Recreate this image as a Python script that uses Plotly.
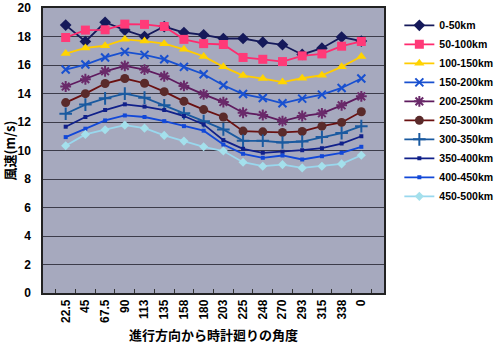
import plotly.graph_objects as go

angles = ["22.5", "45", "67.5", "90", "113", "135", "158", "180", "203", "225", "248", "270", "293", "315", "338", "0"]

series_names = ["0-50km", "50-100km", "100-150km", "150-200km", "200-250km",
                "250-300km", "300-350km", "350-400km", "400-450km", "450-500km"]

v_0_50 = [18.8, 17.65, 19.0, 18.45, 18.0, 18.7, 18.28, 18.12, 17.86, 17.86, 17.6, 17.42, 16.74, 17.18, 17.96, 17.68]
v_50_100 = [17.93, 18.45, 18.47, 18.87, 18.85, 18.7, 17.8, 17.5, 17.44, 16.53, 16.4, 16.24, 16.64, 16.78, 17.32, 17.65]
v_100_150 = [16.8, 17.2, 17.35, 17.8, 17.68, 17.5, 17.1, 16.6, 15.87, 15.26, 15.05, 14.8, 15.07, 15.28, 15.87, 16.6]
v_150_200 = [15.68, 16.03, 16.53, 16.92, 16.71, 16.4, 15.87, 15.35, 14.58, 13.96, 13.68, 13.31, 13.64, 13.92, 14.39, 15.05]
v_200_250 = [14.49, 15.0, 15.56, 15.94, 15.68, 15.21, 14.53, 13.94, 13.4, 12.65, 12.49, 12.06, 12.42, 12.61, 13.17, 13.8]
v_250_300 = [13.36, 13.99, 14.7, 15.05, 14.72, 14.13, 13.45, 12.87, 12.35, 11.36, 11.31, 11.27, 11.34, 11.71, 11.97, 12.72]
v_300_350 = [12.58, 13.22, 13.66, 13.99, 13.71, 13.17, 12.61, 12.06, 11.48, 10.68, 10.68, 10.56, 10.63, 10.94, 11.22, 11.71]
v_350_400 = [11.67, 12.35, 12.84, 13.24, 13.08, 12.84, 12.42, 11.83, 10.73, 10.12, 9.84, 9.91, 10.02, 10.16, 10.49, 11.0]
v_400_450 = [10.94, 11.53, 12.11, 12.46, 12.35, 12.06, 11.71, 11.39, 10.42, 9.77, 9.49, 9.65, 9.37, 9.6, 9.84, 10.26]
v_450_500 = [10.33, 11.13, 11.46, 11.78, 11.57, 11.06, 10.66, 10.26, 9.96, 9.18, 8.9, 9.01, 8.78, 8.9, 9.06, 9.67]

all_values = [v_0_50, v_50_100, v_100_150, v_150_200, v_200_250,
              v_250_300, v_300_350, v_350_400, v_400_450, v_450_500]

styles = [
    dict(line="#15195a", marker="#15195a", symbol="diamond", size=9, mline=None),
    dict(line="#ff2a6e", marker="#ff3a78", symbol="square", size=9, mline=None),
    dict(line="#ffcc00", marker="#ffd400", symbol="triangle-up", size=9, mline=None),
    dict(line="#1850d0", marker="#1850d0", symbol="x-thin-open", size=8, mline=2),
    dict(line="#5e1a5e", marker="#6a2a6a", symbol="asterisk-open", size=9, mline=2),
    dict(line="#6a1010", marker="#5a2a2a", symbol="circle", size=9, mline=None),
    dict(line="#1a5aa0", marker="#1a5aa0", symbol="cross-thin-open", size=9, mline=2),
    dict(line="#10208a", marker="#10208a", symbol="square", size=4, mline=None),
    dict(line="#1248d8", marker="#1248d8", symbol="square", size=4, mline=None),
    dict(line="#99d8ee", marker="#a4e0ec", symbol="diamond", size=7, mline=None),
]

fig = go.Figure()
for name, vals, st in zip(series_names, all_values, styles):
    marker = dict(symbol=st["symbol"], size=st["size"], color=st["marker"])
    if st["mline"]:
        marker["line"] = dict(color=st["marker"], width=st["mline"])
    else:
        marker["line"] = dict(width=0)
    fig.add_trace(go.Scatter(
        x=angles, y=vals, name=name, mode="lines+markers",
        line=dict(color=st["line"], width=1.8),
        marker=marker,
    ))

num_font = "Liberation Sans, Arial, sans-serif"
cjk_font = "Noto Sans CJK JP, sans-serif"

fig.update_layout(
    width=500, height=344,
    margin=dict(l=43, r=116, t=8, b=51, autoexpand=False),
    paper_bgcolor="white",
    plot_bgcolor="#a6a9be",
    font=dict(family=cjk_font, size=12, color="black"),
    showlegend=True,
    legend=dict(
        x=1.045, y=0.99, xanchor="left", yanchor="top",
        bgcolor="rgba(0,0,0,0)",
        font=dict(family=num_font, size=10.5, weight="bold"),
        tracegroupgap=0,
        itemwidth=30,
    ),
    xaxis=dict(
        type="category",
        tickangle=-90,
        tickfont=dict(family=num_font, size=12, weight="bold"),
        showgrid=False,
        ticks="inside", ticklen=4, tickcolor="#333",
        tickson="boundaries",
        showline=True, linecolor="#222", linewidth=1.5, mirror=True,
        title=dict(text="進行方向から時計廻りの角度", font=dict(size=13, weight="bold"), standoff=9),
    ),
    yaxis=dict(
        range=[0, 20], dtick=2,
        tickfont=dict(family=num_font, size=12, weight="bold"),
        ticklabelstandoff=8,
        ticklabeloverflow="allow",
        showgrid=True, gridcolor="#3c3c4a", gridwidth=1,
        showline=True, linecolor="#222", linewidth=1.5, mirror=True,
        zeroline=False,
        ticks="", ticklen=0,
        title=dict(text="風速(m/s)", font=dict(size=13, weight="bold"), standoff=4),
    ),
)

fig.write_html("out.html")
